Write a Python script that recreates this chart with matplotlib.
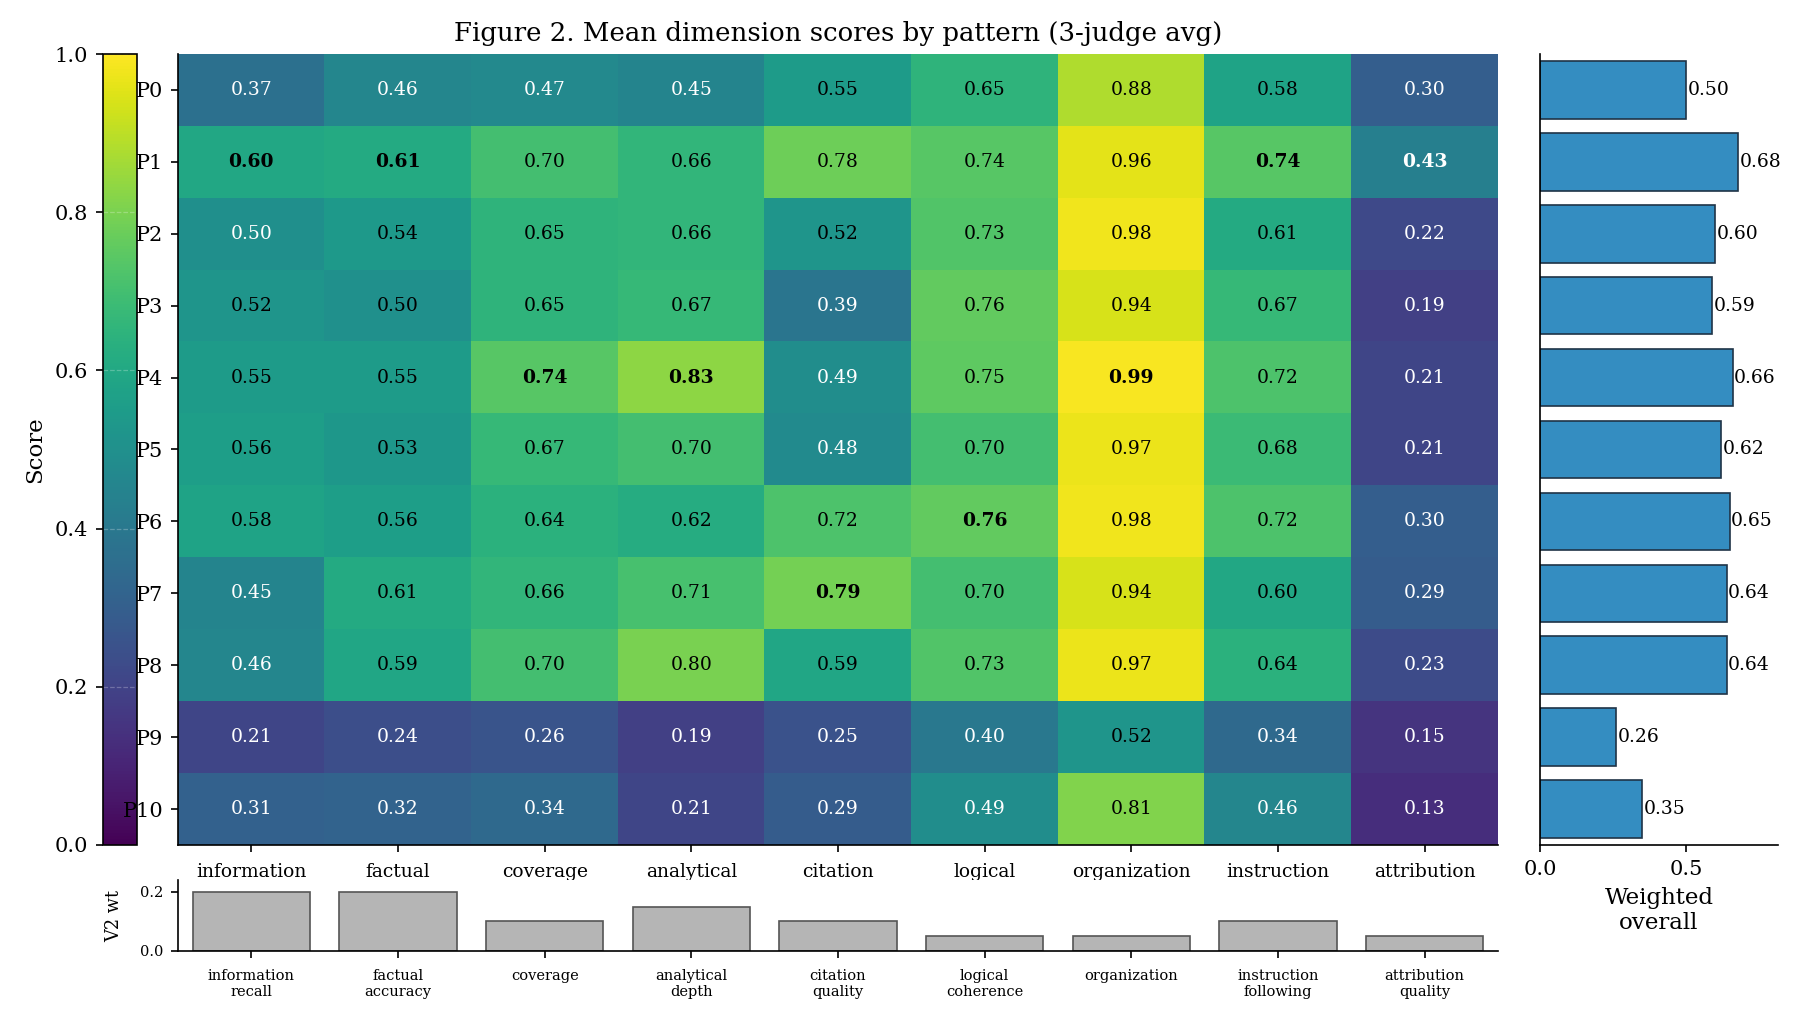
import numpy as np
import matplotlib
matplotlib.use("Agg")
import matplotlib.pyplot as plt
from matplotlib import cm, colors

plt.rcParams['font.family'] = 'serif'
plt.rcParams['font.serif'] = ['DejaVu Serif']

patterns = ["P0", "P1", "P2", "P3", "P4", "P5", "P6", "P7", "P8", "P9", "P10"]
dims_short = ["information\nrecall", "factual\naccuracy", "coverage", "analytical\ndepth",
              "citation\nquality", "logical\ncoherence", "organization",
              "instruction\nfollowing", "attribution\nquality"]

# mean score per pattern (rows) x dimension (cols)
scores = np.array([
    [0.37, 0.46, 0.47, 0.45, 0.55, 0.65, 0.88, 0.58, 0.30],
    [0.60, 0.61, 0.70, 0.66, 0.78, 0.74, 0.96, 0.74, 0.43],
    [0.498, 0.54, 0.65, 0.66, 0.52, 0.73, 0.98, 0.61, 0.22],
    [0.52, 0.50, 0.65, 0.67, 0.39, 0.76, 0.94, 0.67, 0.19],
    [0.55, 0.55, 0.74, 0.83, 0.49, 0.75, 0.99, 0.72, 0.21],
    [0.56, 0.53, 0.67, 0.70, 0.48, 0.70, 0.97, 0.68, 0.21],
    [0.58, 0.56, 0.64, 0.62, 0.72, 0.76, 0.98, 0.72, 0.30],
    [0.45, 0.61, 0.66, 0.71, 0.79, 0.70, 0.94, 0.60, 0.29],
    [0.46, 0.59, 0.70, 0.80, 0.59, 0.73, 0.97, 0.64, 0.23],
    [0.21, 0.24, 0.26, 0.19, 0.25, 0.40, 0.52, 0.34, 0.15],
    [0.31, 0.32, 0.34, 0.21, 0.29, 0.49, 0.81, 0.46, 0.13],
])
# row holding the best score in each column (bold)
best_row = [1, 1, 4, 4, 7, 6, 4, 1, 1]

weights = [0.20, 0.20, 0.10, 0.15, 0.10, 0.05, 0.05, 0.10, 0.05]
overall = [0.50, 0.68, 0.60, 0.59, 0.66, 0.62, 0.65, 0.64, 0.64, 0.26, 0.35]

W, H = 1800, 1019
fig = plt.figure(figsize=(W / 150, H / 150), dpi=150)

def frac(l, t, r, b):
    return [l / W, 1 - b / H, (r - l) / W, (b - t) / H]

cax = fig.add_axes(frac(103, 54, 137, 845))
ax = fig.add_axes(frac(178, 54, 1498, 845))
ax.set_zorder(2)
bax = fig.add_axes(frac(1540, 54, 1778, 845))
wax = fig.add_axes(frac(178, 880, 1498, 951))
wax.set_zorder(3)

cmap = plt.get_cmap('viridis')
norm = colors.Normalize(0, 1)

# heatmap
ax.imshow(scores, cmap=cmap, norm=norm, aspect='auto', interpolation='nearest')
n_rows, n_cols = scores.shape
for i in range(n_rows):
    for j in range(n_cols):
        v = scores[i, j]
        ax.text(j, i, f"{v:.2f}", ha='center', va='center', fontsize=9,
                color='white' if v < 0.5 else 'black',
                fontweight='bold' if best_row[j] == i else 'normal')
ax.set_xticks(range(n_cols))
ax.set_xticklabels(dims_short, fontsize=9)
ax.tick_params(axis='x', pad=5)
ax.set_yticks(range(n_rows))
ax.set_yticklabels(patterns, fontsize=10)
ax.spines['top'].set_visible(False)
ax.spines['right'].set_visible(False)
ax.set_title("Figure 2. Mean dimension scores by pattern (3-judge avg)", fontsize=12.5)

# colorbar
cb = fig.colorbar(cm.ScalarMappable(norm=norm, cmap=cmap), cax=cax)
cax.yaxis.set_ticks_position('left')
cax.yaxis.set_label_position('left')
cb.set_ticks([0.0, 0.2, 0.4, 0.6, 0.8, 1.0])
cax.tick_params(labelsize=10)
cb.set_label("Score", fontsize=11)
cax.grid(True, axis='y', linestyle='--', color='white', alpha=0.25, linewidth=0.6)

# weighted overall bars
bax.barh(range(n_rows), overall, height=0.8, color='#348dc1', edgecolor='#1f3447', linewidth=0.8)
for i, v in enumerate(overall):
    bax.text(v + 0.005, i, f"{v:.2f}", va='center', ha='left', fontsize=9)
bax.set_ylim(n_rows - 0.5, -0.5)
bax.set_xlim(0, max(overall) * 1.2)
bax.set_yticks([])
bax.set_xticks([0.0, 0.5])
bax.tick_params(labelsize=10)
bax.set_xlabel("Weighted\noverall", fontsize=11)
bax.spines['top'].set_visible(False)
bax.spines['right'].set_visible(False)

# weights strip
wax.bar(range(n_cols), weights, width=0.8, color='#b5b5b5', edgecolor='#555555', linewidth=0.8)
wax.set_xlim(-0.5, n_cols - 0.5)
wax.set_ylim(0, max(weights) * 1.2)
wax.set_xticks(range(n_cols))
wax.set_xticklabels(dims_short, fontsize=7)
wax.tick_params(axis='x', pad=5)
wax.set_yticks([0.0, 0.2])
wax.tick_params(axis='y', labelsize=7)
wax.set_ylabel("V2 wt", fontsize=8.5, labelpad=8)
wax.spines['top'].set_visible(False)
wax.spines['right'].set_visible(False)

fig.savefig("out.png", dpi=150)
